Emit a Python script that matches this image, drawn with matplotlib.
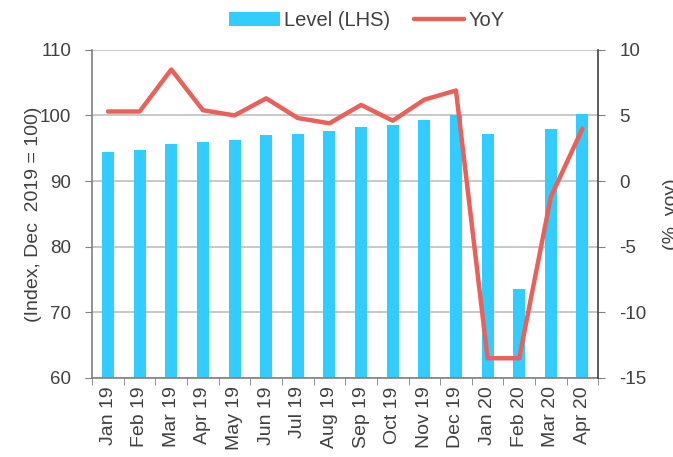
import numpy as np
import matplotlib
matplotlib.use("Agg")
import matplotlib.pyplot as plt
from matplotlib.ticker import FixedLocator

plt.rcParams['font.family'] = ['Liberation Sans', 'DejaVu Sans']
plt.rcParams['axes.unicode_minus'] = False
plt.rcParams['text.color'] = '#404040'
plt.rcParams['axes.labelcolor'] = '#404040'
plt.rcParams['xtick.labelcolor'] = '#404040'
plt.rcParams['ytick.labelcolor'] = '#404040'

months = ['Jan 19', 'Feb 19', 'Mar 19', 'Apr 19', 'May 19', 'Jun 19', 'Jul 19', 'Aug 19',
          'Sep 19', 'Oct 19', 'Nov 19', 'Dec 19', 'Jan 20', 'Feb 20', 'Mar 20', 'Apr 20']
level = [94.4, 94.8, 95.7, 95.9, 96.3, 97.0, 97.2, 97.6,
         98.2, 98.6, 99.3, 100.0, 97.2, 73.6, 98.0, 100.2]
yoy = [5.3, 5.3, 8.5, 5.4, 5.0, 6.3, 4.8, 4.4,
       5.8, 4.6, 6.2, 6.9, -13.5, -13.5, -1.2, 4.0]

bar_col = '#33CCFF'
line_col = '#E8615A'
axis_col = '#808080'

fig = plt.figure(figsize=(6.73, 4.57), dpi=100)
ax = fig.add_axes([0.137, 0.173, 0.752, 0.718])
x = np.arange(len(months))

bars = ax.bar(x, level, width=0.38, color=bar_col, zorder=2, label='Level (LHS)')
ax.set_ylim(60, 110)
ax.set_yticks([60, 70, 80, 90, 100, 110])
ax.set_xlim(-0.5, len(months) - 0.5)
ax.grid(axis='y', color='#BFBFBF', linewidth=1.2, zorder=0)
ax.set_axisbelow(True)

ax.set_xticks(x)
ax.set_xticklabels(months, rotation=90)
ax.xaxis.set_minor_locator(FixedLocator(np.arange(-0.5, len(months), 1)))
ax.tick_params(axis='x', which='major', length=0, pad=6, labelsize=14)
ax.tick_params(axis='x', which='minor', length=5, color=axis_col)
ax.tick_params(axis='y', length=5, color=axis_col, labelsize=13.5, pad=10)
ax.set_ylabel('(Index, Dec  2019 = 100)', fontsize=14)
ax.yaxis.set_label_coords(-0.1, 0.5)

for s in ['left', 'bottom']:
    ax.spines[s].set_color(axis_col)
    ax.spines[s].set_linewidth(1.2)
ax.spines['top'].set_visible(False)
ax.spines['right'].set_visible(False)

ax2 = ax.twinx()
line, = ax2.plot(x, yoy, color=line_col, linewidth=3.2, label='YoY',
                 solid_capstyle='round', zorder=3)
ax2.set_ylim(-15, 10)
ax2.set_yticks([-15, -10, -5, 0, 5, 10])
ax2.tick_params(axis='y', length=5, color=axis_col, labelsize=13.5, pad=10)
ax2.spines['right'].set_color('#404040')
ax2.spines['right'].set_linewidth(1.2)
for s in ['left', 'top', 'bottom']:
    ax2.spines[s].set_visible(False)
ax2.set_ylabel('(%  yoy)', fontsize=14, rotation=90, labelpad=12)

fig.legend([bars, line], ['Level (LHS)', 'YoY'], loc='center', bbox_to_anchor=(0.545, 0.955),
           ncol=2, frameon=False, fontsize=14.5, handlelength=2.5, handletextpad=0.2,
           columnspacing=1.2)

fig.savefig('out.png', dpi=100)
